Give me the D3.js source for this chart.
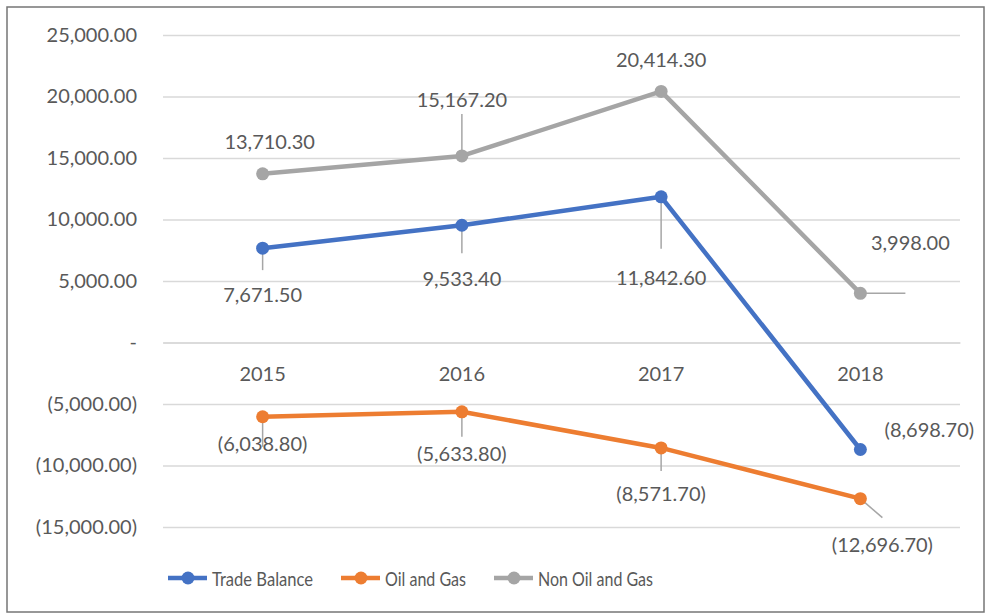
<!DOCTYPE html>
<html><head><meta charset="utf-8">
<script src="https://cdn.jsdelivr.net/npm/d3@7"></script>
<style>body{margin:0;background:#fff}svg{display:block}</style>
</head><body>
<script>
const categories = ["2015","2016","2017","2018"];
const tradeBalance = [7671.5, 9533.4, 11842.6, -8698.7];
const oilAndGas = [-6038.8, -5633.8, -8571.7, -12696.7];
const nonOilAndGas = [13710.3, 15167.2, 20414.3, 3998.0];
const yTicks = [-15000,-10000,-5000,0,5000,10000,15000,20000,25000];
const seriesNames = ["Trade Balance","Oil and Gas","Non Oil and Gas"];
const colors = ["#4472C4","#ED7D31","#A5A5A5"];
// label placement: [dx, dy of text center, leader end dx, dy] relative to point
const labelPlace = [
  [[0,46,0,22],[0,53,0,28],[0,80,0,52],[69,-20,null,null]],
  [[0,26,0,30],[0,41,0,25],[0,45,0,23],[22,45,22,19]],
  [[7,-33,null,null],[0,-57,0,-42],[0,-32,null,null],[50,-51,45,0]]
];
const W=987,H=614;
const svg=d3.select("body").append("svg").attr("width",W).attr("height",H);
svg.append("rect").attr("x",7).attr("y",7).attr("width",977).attr("height",605)
  .attr("fill","#fff").attr("stroke","#767676").attr("stroke-width",1.5);
const x=d3.scaleBand().domain(categories).range([163,960]);
const y=d3.scaleLinear().domain([-15000,25000]).range([527,35]);
const font="Lato, 'Liberation Sans', sans-serif";
const fmt=v=>{const s=d3.format(",.2f")(Math.abs(v));return v<0?"("+s+")":(v===0?"-":s);};
// grid
const yAxis=d3.axisLeft(y).tickValues(yTicks).tickSize(-(960-163)).tickFormat(fmt).tickPadding(26);
const ga=svg.append("g").attr("transform","translate(163,0)").call(yAxis);
ga.select(".domain").remove();
ga.selectAll(".tick line").attr("stroke","#D9D9D9").attr("stroke-width",1.3);
ga.selectAll(".tick text").attr("fill","#595959").style("font-family",font).style("font-size","20px");
// category labels
const xAxis=d3.axisBottom(x).tickSize(0).tickPadding(24);
const gx=svg.append("g").attr("transform",`translate(0,${y(0)})`).call(xAxis);
gx.select(".domain").attr("stroke","#D9D9D9").attr("stroke-width",1.3);
gx.selectAll(".tick text").attr("fill","#595959").style("font-family",font).style("font-size","20px");
const series=[tradeBalance,oilAndGas,nonOilAndGas];
const cx=c=>x(c)+x.bandwidth()/2;
// leader lines
series.forEach((vals,si)=>{
  vals.forEach((v,i)=>{
    const p=labelPlace[si][i];
    if(p[2]!==null){
      svg.append("line").attr("x1",cx(categories[i])).attr("y1",y(v))
        .attr("x2",cx(categories[i])+p[2]).attr("y2",y(v)+p[3])
        .attr("stroke","#A6A6A6").attr("stroke-width",1.5);
    }
  });
});
series.forEach((vals,si)=>{
  const line=d3.line().x((d,i)=>cx(categories[i])).y(d=>y(d));
  svg.append("path").datum(vals).attr("d",line).attr("fill","none")
    .attr("stroke",colors[si]).attr("stroke-width",4.5).attr("stroke-linejoin","round");
  svg.selectAll(null).data(vals).enter().append("circle")
    .attr("cx",(d,i)=>cx(categories[i])).attr("cy",d=>y(d)).attr("r",6.5).attr("fill",colors[si]);
});
series.forEach((vals,si)=>{
  vals.forEach((v,i)=>{
    const p=labelPlace[si][i];
    svg.append("text").attr("x",cx(categories[i])+p[0]).attr("y",y(v)+p[1])
      .attr("text-anchor","middle").attr("dominant-baseline","central")
      .attr("fill","#595959").style("font-family",font).style("font-size","20px").text(fmt(v));
  });
});
// legend
const legX=[168,341,494];
const legTextLen=[101,81,115];
seriesNames.forEach((n,i)=>{
  const g=svg.append("g").attr("transform",`translate(${legX[i]},578)`);
  g.append("line").attr("x1",0).attr("x2",39).attr("y1",0).attr("y2",0).attr("stroke",colors[i]).attr("stroke-width",4.5);
  g.append("circle").attr("cx",20).attr("cy",0).attr("r",6.5).attr("fill",colors[i]);
  g.append("text").attr("x",44).attr("y",0).attr("dominant-baseline","central")
    .attr("textLength",legTextLen[i]).attr("lengthAdjust","spacingAndGlyphs")
    .attr("fill","#595959").style("font-family",font).style("font-size","20px").text(n);
});
</script>
</body></html>
